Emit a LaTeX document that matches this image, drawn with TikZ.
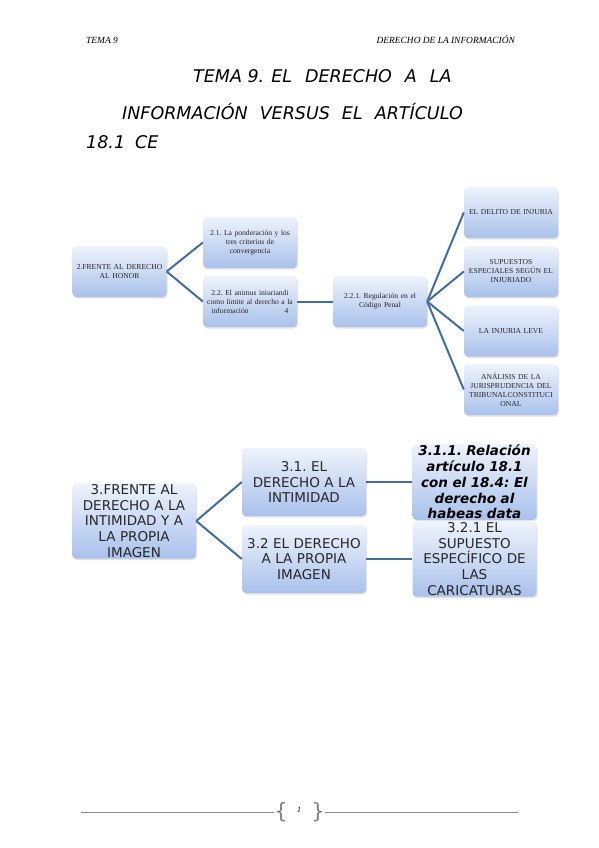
\documentclass[tikz,border=0pt]{standalone}
\usepackage{fontspec}
\setmainfont{Liberation Serif}
\newfontfamily\dejavu{DejaVu Sans}
\usetikzlibrary{shadows}
\definecolor{boxtop}{HTML}{EEF3FC}
\definecolor{boxbot}{HTML}{A9C1EB}
\definecolor{edgeblue}{HTML}{3F6DA5}
\frenchspacing

\begin{document}
\begin{tikzpicture}
  [x=1pt,y=-1pt]
      \tikzstyle{box_style} = [rounded corners=4pt, top color=boxtop, bottom color=boxbot, draw=none, drop shadow={opacity=0.22,shadow xshift=1pt,shadow yshift=-1.5pt}, align=center, inner sep=1pt]
      \tikzstyle{small_box} = [box_style, minimum width=94pt, minimum height=51pt, text width=92pt, text=black!85, font=\fontsize{7.6}{9}\selectfont]
      \tikzstyle{big_box} = [box_style, minimum width=122pt, minimum height=68pt, text width=122pt, font=\dejavu\fontsize{13.5}{15.7}\selectfont, text=black!85]
      \tikzstyle{edge_style} = [draw=edgeblue, line width=2pt]
      \tikzstyle{title_style} = [anchor=base west, inner sep=0pt, font=\dejavu\itshape\fontsize{17.5}{20}\selectfont]
      \tikzstyle{head_style} = [inner sep=0pt, font=\itshape\fontsize{9.4}{11}\selectfont]
      \tikzstyle{brace_style} = [inner sep=0pt, text=black!50, font=\dejavu\fontsize{21}{21}\selectfont]
  \useasboundingbox (0,0) rectangle (599,848);

  % header and title
  \node[head_style, anchor=base west] (h0) at (86,44) {TEMA 9};
  \node[head_style, anchor=base east] (h1) at (515,44) {DERECHO DE LA INFORMACIÓN};
  \node[title_style] (t0) at (193,83) {TEMA 9.\hspace{7pt}EL\hspace{13pt}DERECHO\hspace{13pt}A\hspace{13pt}LA};
  \node[title_style] (t1) at (122,120) {INFORMACIÓN\hspace{12pt}VERSUS\hspace{12pt}EL\hspace{12pt}ARTÍCULO};
  \node[title_style] (t2) at (86,148) {18.1\hspace{10pt}CE};

  % honor
  \node[small_box] (n0) at (119.5,271.5) {2.FRENTE AL DERECHO\\AL HONOR};
  \node[small_box] (n1) at (250,242.5) {2.1. La ponderación y los\\tres criterios de\\convergencia};
  \node[small_box] (n2) at (250,301.5) {2.2. El animus iniuriandi\\como límite al derecho a la\\\makebox[77pt][l]{información\hfill 4}};
  \node[small_box] (n3) at (380,301.5) {2.2.1. Regulación en el\\Código Penal};
  \node[small_box] (n4) at (511,212.5) {EL DELITO DE INJURIA};
  \node[small_box] (n5) at (511,271.5) {SUPUESTOS\\ESPECIALES SEGÚN EL\\INJURIADO};
  \node[small_box] (n6) at (511,331) {LA INJURIA LEVE};
  \node[small_box] (n7) at (511,389.5) {ANÁLISIS DE LA\\JURISPRUDENCIA DEL\\TRIBUNALCONSTITUCI\\ONAL};

  \draw[edge_style] (n0.east) edge (n1.west);
  \draw[edge_style] (n0.east) edge (n2.west);
  \draw[edge_style] (n2.east) edge (n3.west);
  \draw[edge_style] (n3.east) edge (n4.west);
  \draw[edge_style] (n3.east) edge (n5.west);
  \draw[edge_style] (n3.east) edge (n6.west);
  \draw[edge_style] (n3.east) edge (n7.west);

  % intimidad
  \node[big_box] (m0) at (134,521) {3.FRENTE AL\\DERECHO A LA\\INTIMIDAD Y A\\LA PROPIA\\IMAGEN};
  \node[big_box] (m1) at (304,482) {3.1. EL\\DERECHO A LA\\INTIMIDAD};
  \node[big_box] (m2) at (304,559) {3.2 EL DERECHO\\A LA PROPIA\\IMAGEN};
  \node[big_box, font=\dejavu\bfseries\itshape\fontsize{13.5}{15.7}\selectfont, text=black] (m3) at (474.5,482) {3.1.1. Relación\\artículo 18.1\\con el 18.4: El\\derecho al\\habeas data};
  \node[big_box] (m4) at (474.5,559) {3.2.1 EL\\SUPUESTO\\ESPECÍFICO DE\\LAS\\CARICATURAS};

  \draw[edge_style] (m0.east) edge (m1.west);
  \draw[edge_style] (m0.east) edge (m2.west);
  \draw[edge_style] (m1.east) edge (m3.west);
  \draw[edge_style] (m2.east) edge (m4.west);

  % footer
  \coordinate (f0) at (81,812);
  \coordinate (f1) at (518,812);
  \node[brace_style] (b0) at (281,812) {\{};
  \node[brace_style] (b1) at (318,812) {\}};
  \node[head_style, font=\itshape\fontsize{8}{9}\selectfont] (pg) at (299,810) {1};
  \draw[black!45, line width=0.8pt] (f0) -- (b0.west);
  \draw[black!45, line width=0.8pt] (b1.east) -- (f1);
\end{tikzpicture}
\end{document}
